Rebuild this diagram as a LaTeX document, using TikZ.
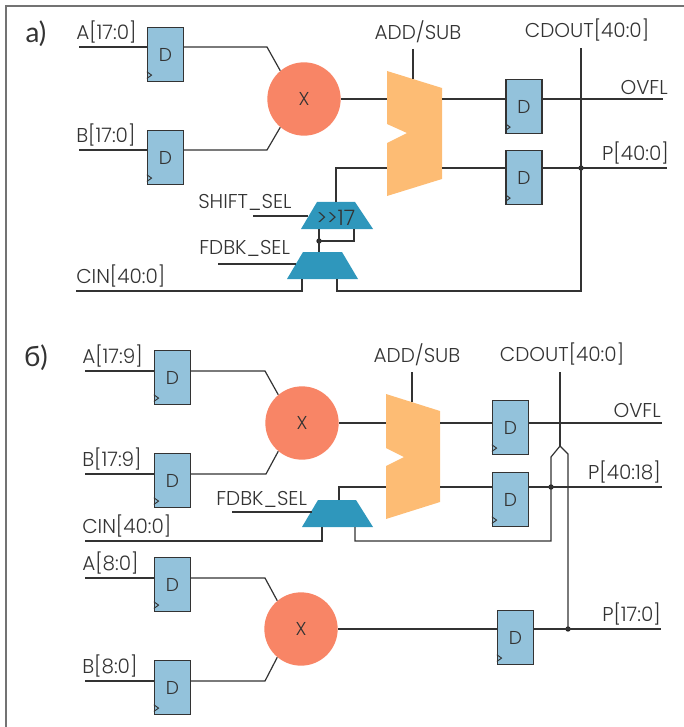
\documentclass[tikz,border=0pt]{standalone}
\usepackage{fontspec}
\setmainfont{Poppins Light}
\newfontfamily\cyrfont{Lato}
\usepackage{xcolor}
\definecolor{regblue}{HTML}{93C2DB}
\definecolor{multred}{HTML}{F88566}
\definecolor{addorange}{HTML}{FDBC74}
\definecolor{muxblue}{HTML}{2F97BC}
\definecolor{wiregray}{HTML}{333333}
\usetikzlibrary{calc}
\tikzset{
  wire/.style={draw=wiregray,line width=0.9pt},
  lbl/.style={font=\fontsize{15}{15}\selectfont,text=wiregray,inner sep=0pt},
  panellbl/.style={font=\cyrfont\fontsize{21}{21}\selectfont,text=wiregray,inner sep=0pt},
  regbox/.style={draw=wiregray,fill=regblue,line width=0.9pt,minimum width=27pt,minimum height=41pt,inner sep=0pt,font=\fontsize{14}{14}\selectfont,text=wiregray},
  multnode/.style={circle,fill=multred,minimum size=55pt,inner sep=0pt,font=\fontsize{14}{14}\selectfont,text=wiregray},
  dotnode/.style={circle,fill=black!85,minimum size=4pt,inner sep=0pt},
}
% one register: name, centre x, centre y
\newcommand{\dreg}[3]{
  \node[regbox] (#1) at (#2,#3) {D};
  \draw[wiregray,line width=0.7pt] ($(#1.south west)+(0,8pt)$) -- ++(3.5pt,-2.5pt) -- ++(-3.5pt,-2.5pt);
}
\begin{document}
\begin{tikzpicture}[x=0.75pt,y=-0.75pt]
  \useasboundingbox (0,0) rectangle (684,727);
  \draw[black!55,line width=1pt] (684,6) -- (6,6) -- (6,727);

  %% a)
  \node[panellbl] (labA) at (36,34) {а)};
  \dreg{regAa}{165.5}{54.5}
  \dreg{regBa}{165.5}{157.5}
  \dreg{regOa}{524}{106.5}
  \dreg{regPa}{524}{177.5}
  \node[multnode] (multa) at (304,99) {X};
  \fill[addorange] (387,71) -- (442,88) -- (442,179) -- (387,196) -- (387,143) -- (407,133) -- (387,124) -- cycle;
  \fill[muxblue] (317,202) -- (355,202) -- (373,229) -- (301,229) -- cycle;
  \fill[muxblue] (303,252) -- (342,252) -- (358,279) -- (287,279) -- cycle;
  \node[lbl,font=\fontsize{16}{16}\selectfont] (shfa) at (336,218) {>{}>17};

  \node[lbl,anchor=south west] (inAa) at (76,43) {A[17:0]};
  \node[lbl,anchor=south west] (inBa) at (76,146) {B[17:0]};
  \node[lbl,anchor=south] (addlaba) at (418,43) {ADD/SUB};
  \node[lbl,anchor=south] (cdouta) at (587,41) {CDOUT[40:0]};
  \node[lbl,anchor=south east] (ovfla) at (668,95) {OVFL};
  \node[lbl,anchor=south east] (pouta) at (669,164) {P[40:0]};
  \node[lbl,anchor=south west] (shsel) at (198,211) {SHIFT\_SEL};
  \node[lbl,anchor=south west] (fbsela) at (199,257) {FDBK\_SEL};
  \node[lbl,anchor=south west] (cina) at (76,287) {CIN[40:0]};

  \coordinate (ja) at (581,168);
  \coordinate (jb) at (319,241);
  \node[dotnode] (dota) at (ja) {};
  \node[dotnode] (dotb) at (jb) {};

  \draw[wire] (79,47) -- (79,47 -| regAa.west);
  \draw[wire] (79,150) -- (79,150 -| regBa.west);
  \draw[wire] (184,47) -- (267,47) -- (multa.130);
  \draw[wire] (184,150) -- (267,150) -- (multa.230);
  \draw[wire] (multa) ++(36.5,0) -- (387,99);
  \draw[wire] (442,99) -- (regOa.west |- 0,99);
  \draw[wire] (regOa.east |- 0,99) -- (663,99);
  \draw[wire] (336,202) -- (336,168) -- (387,168);
  \draw[wire] (442,168) -- (regPa.west |- ja);
  \draw[wire] (regPa.east |- ja) -- (ja) -- (667,168);
  \draw[wire] (413,49) -- (413,79);
  \draw[wire] (253,216) -- (308,216);
  \draw[wire] (218,264) -- (296,264);
  \draw[wire] (319,229) -- (jb) -- (319,252);
  \draw[wire] (jb) -- (354,241) -- (354,229);
  \draw[wire] (76,291) -- (302,291) -- (302,279);
  \draw[wire] (337,279) -- (337,291) -- (581,291) -- (ja) -- (581,48);

  %% b)
  \node[panellbl] (labB) at (36,358) {б)};
  \dreg{regAb}{172.5}{377.5}
  \dreg{regBb}{172.5}{480.5}
  \dreg{regAc}{172.5}{584.5}
  \dreg{regBc}{172.5}{687.5}
  \dreg{regOb}{510.5}{427.5}
  \dreg{regPb}{510.5}{499.5}
  \dreg{regPc}{515.5}{637.5}
  \node[multnode] (multb) at (302,423) {X};
  \node[multnode] (multc) at (301,629) {X};
  \fill[addorange] (386,394) -- (440,411) -- (440,502) -- (386,519) -- (386,466) -- (404,457) -- (386,448) -- cycle;
  \fill[muxblue] (318,500) -- (356,500) -- (373,527) -- (302,527) -- cycle;

  \node[lbl,anchor=south west] (inAb) at (82,367) {A[17:9]};
  \node[lbl,anchor=south west] (inBb) at (82,470) {B[17:9]};
  \node[lbl,anchor=south west] (inAc) at (82,574) {A[8:0]};
  \node[lbl,anchor=south west] (inBc) at (82,677) {B[8:0]};
  \node[lbl,anchor=south] (addlabb) at (417,366) {ADD/SUB};
  \node[lbl,anchor=south] (cdoutb) at (562,365) {CDOUT[40:0]};
  \node[lbl,anchor=south east] (ovflb) at (661,418) {OVFL};
  \node[lbl,anchor=south east] (poutb) at (661,483) {P[40:18]};
  \node[lbl,anchor=south east] (poutc) at (661,625) {P[17:0]};
  \node[lbl,anchor=south west] (fbselb) at (216,508) {FDBK\_SEL};
  \node[lbl,anchor=south west] (cinb) at (82,537) {CIN[40:0]};

  \coordinate (jc) at (551,487);
  \coordinate (jd) at (568,629);
  \node[dotnode] (dotc) at (jc) {};
  \node[dotnode] (dotd) at (jd) {};

  \draw[wire] (85,371) -- (85,371 -| regAb.west);
  \draw[wire] (85,474) -- (85,474 -| regBb.west);
  \draw[wire] (85,578) -- (85,578 -| regAc.west);
  \draw[wire] (85,681) -- (85,681 -| regBc.west);
  \draw[wire] (191,371) -- (265,371) -- (multb.130);
  \draw[wire] (191,474) -- (266,474) -- (multb.230);
  \draw[wire] (191,578) -- (265,578) -- (multc.130);
  \draw[wire] (191,681) -- (265,681) -- (multc.230);
  \draw[wire] (339,423) -- (386,423);
  \draw[wire] (440,423) -- (regOb.west |- 0,423);
  \draw[wire] (regOb.east |- 0,423) -- (662,423);
  \draw[wire] (339,500) -- (339,487) -- (386,487);
  \draw[wire] (440,487) -- (regPb.west |- jc);
  \draw[wire] (regPb.east |- jc) -- (jc) -- (662,487);
  \draw[wire] (412,372) -- (412,402);
  \draw[wire] (232,512) -- (312,512);
  \draw[wire] (85,541) -- (322,541) -- (322,527);
  \draw[wire] (355,527) -- (355,541) -- (551,541) -- (jc) -- (551,457) -- (560,446) -- (568,454) -- (jd);
  \draw[wire] (560,372) -- (560,446);
  \draw[wire] (338,629) -- (regPc.west |- jd);
  \draw[wire] (regPc.east |- jd) -- (jd) -- (661,629);
\end{tikzpicture}
\end{document}
